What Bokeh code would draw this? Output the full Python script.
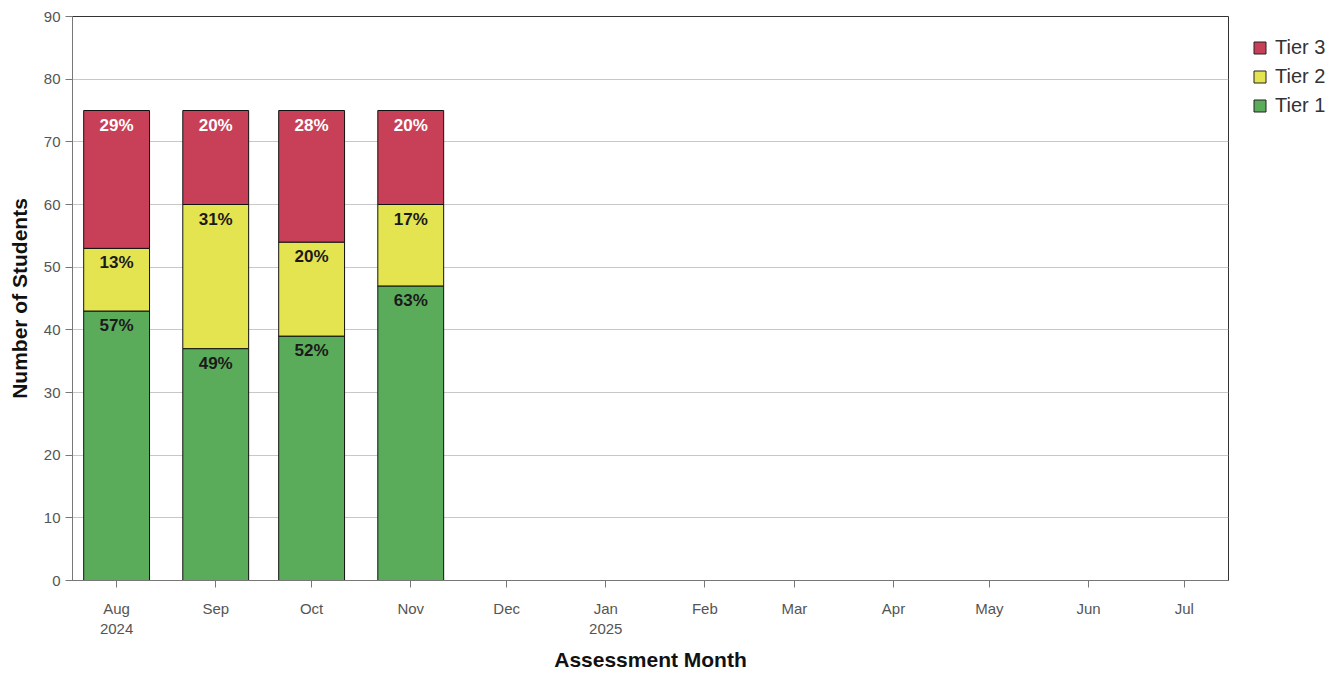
import pandas as pd
from bokeh.plotting import figure
from bokeh.layouts import row
from bokeh.models import ColumnDataSource, Range1d, FixedTicker, Legend, LegendItem, LabelSet
from bokeh.embed import file_html
from bokeh.resources import INLINE
from bokeh.core.properties import value

# ---- data ----
months = ["2024-08-01", "2024-09-01", "2024-10-01", "2024-11-01"]
tier1 = [43, 37, 39, 47]
tier2 = [10, 23, 15, 13]
tier3 = [22, 15, 21, 15]

tick_months = ["2024-08-01", "2024-09-01", "2024-10-01", "2024-11-01", "2024-12-01",
               "2025-01-01", "2025-02-01", "2025-03-01", "2025-04-01", "2025-05-01",
               "2025-06-01", "2025-07-01"]
tick_labels = ["Aug\n2024", "Sep", "Oct", "Nov", "Dec", "Jan\n2025", "Feb", "Mar",
               "Apr", "May", "Jun", "Jul"]

series_names = ["Tier 3", "Tier 2", "Tier 1"]

DAY = 86400000.0
x = pd.to_datetime(months)
totals = [a + b + c for a, b, c in zip(tier1, tier2, tier3)]
t1_top = tier1
t2_top = [a + b for a, b in zip(tier1, tier2)]
t3_top = [a + b + c for a, b, c in zip(tier1, tier2, tier3)]

def pct(vals):
    return ["%d%%" % int(round(100.0 * v / t)) for v, t in zip(vals, totals)]

src = ColumnDataSource(dict(
    x=x, zero=[0] * len(months), t1=t1_top, t2=t2_top, t3=t3_top,
    p1=pct(tier1), p2=pct(tier2), p3=pct(tier3),
))

tick_ms = [pd.Timestamp(m).value / 1e6 for m in tick_months]

x_start = tick_ms[0] - 13.8 * DAY
x_end = tick_ms[-1] + 13.8 * DAY

H = 673
p = figure(width=1232, height=H, x_axis_type="datetime",
           x_range=Range1d(x_start, x_end), y_range=Range1d(0, 90),
           output_backend="svg", toolbar_location=None,
           min_border_left=72, min_border_right=4, min_border_top=16, min_border_bottom=60)

FONT = "Liberation Sans"
RED = "#c84058"
YEL = "#e4e450"
GRN = "#5aac5a"
COLORS = {"Tier 3": RED, "Tier 2": YEL, "Tier 1": GRN}
W = 20.6 * DAY

r1 = p.vbar(x="x", bottom="zero", top="t1", width=W, source=src,
            fill_color=GRN, line_color="#111111", line_width=1)
r2 = p.vbar(x="x", bottom="t1", top="t2", width=W, source=src,
            fill_color=YEL, line_color="#111111", line_width=1)
r3 = p.vbar(x="x", bottom="t2", top="t3", width=W, source=src,
            fill_color=RED, line_color="#111111", line_width=1)

for col, ycol, color in (("p1", "t1", "#1a1a1a"), ("p2", "t2", "#1a1a1a"), ("p3", "t3", "#ffffff")):
    lab = LabelSet(x="x", y=ycol, text=col, source=src, y_offset=-5,
                   text_align="center", text_baseline="top",
                   text_font=value(FONT), text_font_size=value("17px"),
                   text_font_style=value("bold"), text_color=value(color))
    p.add_layout(lab)

# axes
p.xaxis.ticker = FixedTicker(ticks=tick_ms)
p.xaxis.major_label_overrides = {t: l for t, l in zip(tick_ms, tick_labels)}
p.xaxis.axis_label = "Assessment Month"
p.yaxis.axis_label = "Number of Students"
p.yaxis.ticker = FixedTicker(ticks=list(range(0, 91, 10)))
for ax in (p.xaxis[0], p.yaxis[0]):
    ax.axis_label_text_font = FONT
    ax.axis_label_text_font_size = "21px"
    ax.axis_label_text_font_style = "bold"
    ax.axis_label_text_color = "#111111"
    ax.major_label_text_font = FONT
    ax.major_label_text_font_size = "15px"
    ax.major_label_text_color = "#555555"
    ax.axis_line_color = "#777777"
    ax.major_tick_line_color = "#777777"
    ax.major_tick_out = 7
    ax.major_tick_in = 0
    ax.minor_tick_line_color = None
p.xaxis.major_label_standoff = 12
p.yaxis.major_label_standoff = 5
p.xaxis.axis_label_standoff = 8
p.yaxis.axis_label_standoff = 10

p.xgrid.grid_line_color = None
p.ygrid.grid_line_color = "#c8c8c8"
p.ygrid.grid_line_width = 1
p.outline_line_color = "#333333"
p.outline_line_width = 1
p.background_fill_color = "white"
p.border_fill_color = "white"

# ---- legend panel ----
lf = figure(width=98, height=H, x_range=Range1d(0, 1), y_range=Range1d(0, 1),
            output_backend="svg", toolbar_location=None,
            min_border_left=0, min_border_right=0, min_border_top=8, min_border_bottom=0)
lf.axis.visible = False
lf.grid.visible = False
lf.outline_line_color = None
lf.border_fill_color = "white"
lf.background_fill_color = "white"
items = []
for name in series_names:
    # one hidden bar outside the visible range so the legend swatch is drawn
    rr = lf.vbar(x=[5], top=[5], width=0.1, fill_color=COLORS[name], line_color="#222222")
    items.append(LegendItem(label=name, renderers=[rr]))
legend = Legend(items=items, location="top_left", orientation="vertical")
legend.label_text_font = FONT
legend.label_text_font_size = "20px"
legend.label_text_color = "#333333"
legend.glyph_width = 15
legend.glyph_height = 15
legend.label_standoff = 8
legend.spacing = 6
legend.padding = 4
legend.margin = 20
legend.border_line_color = None
legend.background_fill_alpha = 0
lf.add_layout(legend, "center")

layout = row(p, lf)
open("out.html", "w").write(file_html(layout, INLINE))
